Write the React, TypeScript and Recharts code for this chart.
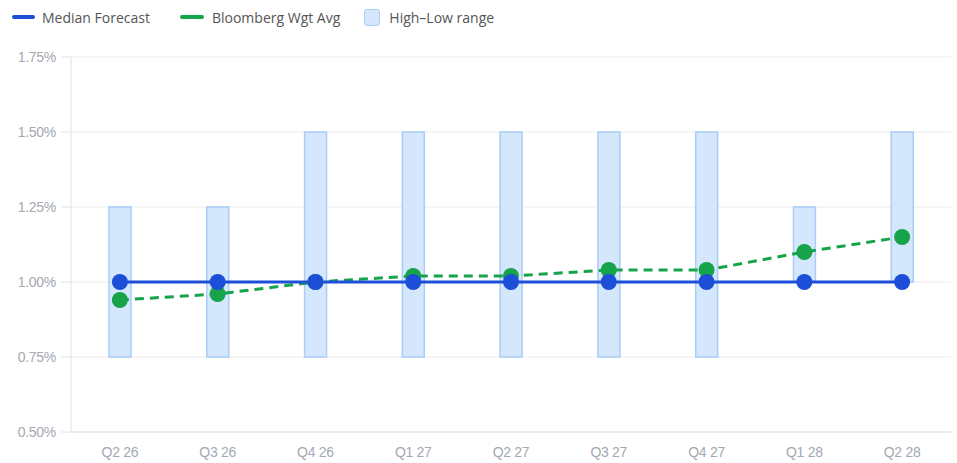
import React from "react";
import { ComposedChart, Bar, Line, XAxis, YAxis, CartesianGrid } from "recharts";

const categories = ["Q2 26", "Q3 26", "Q4 26", "Q1 27", "Q2 27", "Q3 27", "Q4 27", "Q1 28", "Q2 28"];
const medianForecast = [1.0, 1.0, 1.0, 1.0, 1.0, 1.0, 1.0, 1.0, 1.0];
const bloombergWgtAvg = [0.94, 0.96, 1.0, 1.02, 1.02, 1.04, 1.04, 1.1, 1.15];
const highValues = [1.25, 1.25, 1.5, 1.5, 1.5, 1.5, 1.5, 1.25, 1.5];
const lowValues = [0.75, 0.75, 0.75, 0.75, 0.75, 0.75, 0.75, 1.0, 1.0];
const yTicks = [0.5, 0.75, 1.0, 1.25, 1.5, 1.75];

const data = categories.map((c, i) => ({
  name: c,
  median: medianForecast[i],
  bbg: bloombergWgtAvg[i],
  range: [lowValues[i], highValues[i]],
}));

const BLUE = "#1d4ed8";
const GREEN = "#16a34a";
const BAR_FILL = "#d5e7fc";
const BAR_STROKE = "#a9cdf6";
const TICK_COLOR = "#a3a8b1";
const GRID = "#ececec";

const legendText: React.CSSProperties = {
  fontFamily: "'Open Sans', 'Noto Sans', sans-serif",
  fontSize: 14,
  color: "#555",
};

const tickFont = { fill: TICK_COLOR, fontSize: 14, fontFamily: "'Liberation Sans', Arial, sans-serif", letterSpacing: -0.3 };

function LegendBar() {
  return (
    <div
      style={{
        position: "absolute",
        left: 12,
        top: 6,
        display: "flex",
        alignItems: "center",
        height: 22,
        ...legendText,
      }}
    >
      <span style={{ width: 23, height: 4, borderRadius: 2, background: BLUE, display: "inline-block", marginRight: 7 }} />
      <span style={{ marginRight: 30 }}>Median Forecast</span>
      <span style={{ width: 24, height: 4, borderRadius: 2, background: GREEN, display: "inline-block", marginRight: 8 }} />
      <span style={{ marginRight: 24 }}>Bloomberg Wgt Avg</span>
      <span
        style={{
          width: 14,
          height: 15,
          borderRadius: 3,
          background: BAR_FILL,
          border: `1px solid ${BAR_STROKE}`,
          display: "inline-block",
          marginRight: 9,
        }}
      />
      <span>High–Low range</span>
    </div>
  );
}

export default function App() {
  return (
    <div style={{ position: "absolute", left: 0, top: 0, width: 957, height: 463, background: "#fff" }}>
      <LegendBar />
      <ComposedChart
        width={957}
        height={463}
        data={data}
        margin={{ top: 57, right: 6, bottom: 0, left: 0 }}
      >
        <CartesianGrid vertical={false} stroke={GRID} />
        <XAxis
          dataKey="name"
          height={31}
          axisLine={{ stroke: "#e2e2e2" }}
          tickLine={false}
          tickSize={0}
          tickMargin={15}
          tick={tickFont}
        />
        <YAxis
          width={71}
          domain={[0.5, 1.75]}
          ticks={yTicks}
          interval={0}
          tickFormatter={(v: number) => `${v.toFixed(2)}%`}
          axisLine={{ stroke: "#e2e2e2" }}
          tickLine={{ stroke: "#e2e2e2" }}
          tickSize={10}
          tickMargin={5}
          tick={tickFont}
        />
        <Bar
          dataKey="range"
          barSize={22}
          fill={BAR_FILL}
          stroke={BAR_STROKE}
          strokeWidth={1.5}
          isAnimationActive={false}
        />
        <Line
          dataKey="bbg"
          stroke={GREEN}
          strokeWidth={3}
          strokeDasharray="9 6"
          dot={{ r: 8, fill: GREEN, stroke: GREEN, strokeWidth: 0 }}
          activeDot={false}
          isAnimationActive={false}
        />
        <Line
          dataKey="median"
          stroke={BLUE}
          strokeWidth={3}
          dot={{ r: 8, fill: BLUE, stroke: BLUE, strokeWidth: 0 }}
          activeDot={false}
          isAnimationActive={false}
        />
      </ComposedChart>
    </div>
  );
}
